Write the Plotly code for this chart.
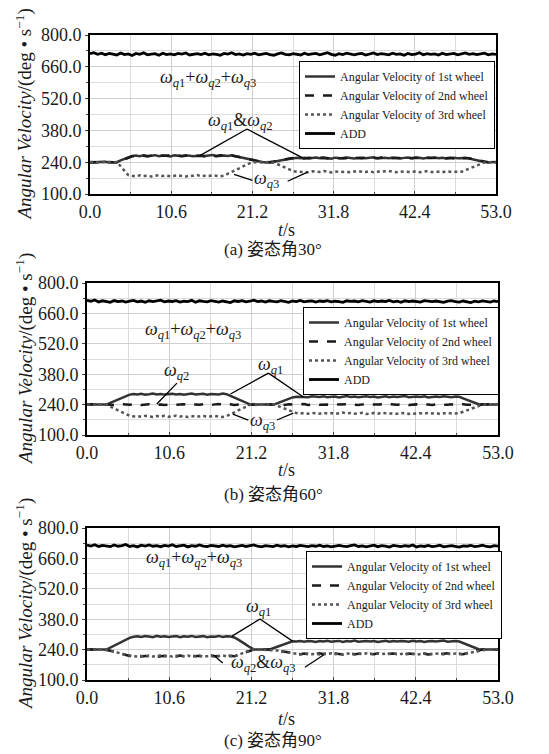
import plotly.graph_objects as go

# ---------------- data ----------------
T = [0, 0.5, 1, 1.5, 2, 2.5, 3, 3.5, 4, 4.5,
     5, 5.5, 6, 6.5, 7, 7.5, 8, 8.5, 9, 9.5,
     10, 10.5, 11, 11.5, 12, 12.5, 13, 13.5, 14, 14.5,
     15, 15.5, 16, 16.5, 17, 17.5, 18, 18.5, 19, 19.5,
     20, 20.5, 21, 21.5, 22, 22.5, 23, 23.5, 24, 24.5,
     25, 25.5, 26, 26.5, 27, 27.5, 28, 28.5, 29, 29.5,
     30, 30.5, 31, 31.5, 32, 32.5, 33, 33.5, 34, 34.5,
     35, 35.5, 36, 36.5, 37, 37.5, 38, 38.5, 39, 39.5,
     40, 40.5, 41, 41.5, 42, 42.5, 43, 43.5, 44, 44.5,
     45, 45.5, 46, 46.5, 47, 47.5, 48, 48.5, 49, 49.5,
     50, 50.5, 51, 51.5, 52, 52.5, 53]

X_TICKS = [0.0, 10.6, 21.2, 31.8, 42.4, 53.0]
Y_TICKS = [100.0, 240.0, 380.0, 520.0, 660.0, 800.0]

SERIES_NAMES = ["Angular Velocity of 1st wheel", "Angular Velocity of 2nd wheel",
                "Angular Velocity of 3rd wheel", "ADD"]
CAPTIONS = ["(a) 姿态角30°", "(b) 姿态角60°", "(c) 姿态角90°"]

# (a) attitude 30 deg
A_W1 = [240, 241, 239, 240, 242, 239, 241, 240, 248, 255,
        262, 267, 269, 266, 270, 267, 268, 271, 266, 269,
        268, 265, 270, 268, 267, 271, 269, 266, 268, 270,
        267, 269, 272, 266, 268, 269, 267, 270, 266, 262,
        258, 254, 250, 246, 242, 241, 239, 240, 241, 245,
        249, 252, 255, 257, 259, 257, 260, 256, 258, 261,
        257, 259, 258, 255, 260, 258, 257, 261, 259, 256,
        258, 260, 257, 259, 262, 256, 258, 259, 257, 260,
        258, 256, 259, 261, 257, 258, 260, 256, 259, 258,
        261, 257, 259, 256, 258, 260, 257, 259, 258, 256,
        252, 248, 244, 241, 240, 239, 241]
A_W2 = [239, 240, 241, 239, 240, 241, 240, 239, 246, 253,
        260, 266, 267, 270, 268, 265, 269, 268, 270, 266,
        268, 271, 267, 269, 266, 268, 270, 267, 269, 268,
        265, 270, 268, 267, 271, 268, 266, 269, 267, 263,
        259, 255, 251, 247, 243, 240, 241, 239, 242, 246,
        250, 253, 256, 258, 257, 259, 256, 260, 258, 257,
        259, 261, 256, 258, 260, 257, 259, 258, 256, 261,
        258, 257, 260, 259, 256, 258, 261, 257, 259, 258,
        260, 256, 258, 259, 257, 261, 258, 256, 260, 259,
        257, 258, 260, 257, 259, 256, 258, 260, 259, 257,
        253, 249, 245, 242, 240, 241, 240]
A_W3 = [241, 239, 240, 240, 242, 239, 240, 241, 222, 200,
        183, 180, 178, 182, 179, 181, 177, 180, 183, 179,
        181, 178, 180, 182, 179, 177, 181, 180, 183, 178,
        180, 179, 182, 180, 178, 181, 189, 197, 206, 214,
        222, 231, 238, 240, 239, 241, 240, 239, 238, 231,
        223, 215, 207, 201, 198, 197, 199, 196, 200, 198,
        197, 201, 198, 195, 199, 198, 200, 197, 196, 199,
        201, 198, 197, 200, 196, 198, 199, 197, 201, 198,
        196, 199, 198, 200, 197, 199, 196, 198, 200, 197,
        199, 198, 196, 200, 198, 197, 199, 198, 205, 212,
        219, 226, 233, 239, 240, 241, 239]
A_ADD = [718, 722, 715, 720, 713, 719, 716, 712, 721, 714,
         717, 710, 719, 715, 722, 713, 716, 718, 711, 720,
         714, 717, 713, 719, 716, 721, 712, 715, 718, 714,
         720, 713, 717, 715, 711, 719, 716, 722, 714, 717,
         712, 718, 715, 720, 713, 716, 719, 714, 711, 717,
         721, 715, 713, 718, 716, 712, 720, 714, 717, 719,
         713, 716, 722, 715, 711, 718, 714, 720, 716, 713,
         717, 719, 712, 715, 721, 714, 718, 716, 713, 720,
         715, 717, 711, 719, 714, 716, 722, 713, 718, 715,
         717, 712, 720, 714, 716, 719, 713, 717, 721, 715,
         718, 714, 716, 720, 713, 717, 715]

# (b) attitude 60 deg
B_W1 = [240, 239, 241, 240, 241, 240, 248, 256, 264, 272,
        280, 286, 289, 287, 290, 286, 288, 291, 287, 289,
        286, 288, 290, 287, 289, 285, 288, 291, 287, 288,
        290, 286, 289, 288, 287, 291, 288, 280, 272, 264,
        256, 248, 241, 240, 239, 241, 240, 241, 239, 246,
        253, 260, 267, 273, 276, 275, 277, 274, 278, 276,
        275, 278, 274, 276, 277, 273, 276, 279, 275, 277,
        274, 276, 278, 275, 277, 273, 276, 278, 274, 277,
        275, 276, 279, 274, 276, 277, 275, 278, 273, 276,
        277, 275, 278, 276, 274, 277, 276, 269, 262, 255,
        248, 242, 240, 241, 239, 240, 241]
B_W2 = [240, 241, 239, 240, 242, 240, 239, 241, 238, 242,
        240, 239, 241, 243, 238, 240, 242, 239, 241, 240,
        238, 241, 243, 239, 240, 242, 238, 241, 240, 239,
        242, 240, 238, 241, 243, 239, 240, 241, 238, 240,
        242, 239, 241, 240, 238, 241, 240, 242, 239, 240,
        241, 238, 242, 240, 239, 241, 243, 238, 240, 242,
        239, 241, 240, 238, 242, 240, 241, 239, 243, 240,
        238, 241, 240, 242, 239, 240, 241, 238, 242, 240,
        239, 241, 243, 238, 240, 241, 239, 242, 240, 238,
        241, 240, 242, 239, 241, 238, 240, 242, 239, 241,
        240, 238, 241, 240, 242, 239, 240]
B_W3 = [240, 241, 239, 240, 239, 241, 231, 222, 213, 204,
        195, 188, 185, 187, 184, 188, 186, 183, 187, 185,
        188, 184, 186, 189, 185, 187, 183, 186, 188, 185,
        187, 184, 186, 188, 185, 183, 187, 196, 205, 214,
        223, 232, 239, 241, 240, 239, 241, 240, 242, 235,
        228, 221, 214, 207, 201, 199, 202, 198, 201, 200,
        198, 202, 199, 201, 197, 200, 203, 199, 201, 198,
        200, 202, 197, 199, 201, 198, 203, 200, 199, 201,
        198, 200, 202, 197, 199, 201, 200, 198, 202, 199,
        201, 197, 200, 202, 199, 198, 200, 207, 214, 221,
        228, 235, 240, 239, 241, 240, 239]
B_ADD = [720, 716, 722, 713, 718, 715, 711, 719, 714, 717,
         712, 716, 720, 713, 717, 711, 718, 714, 716, 721,
         713, 717, 715, 719, 712, 716, 714, 720, 711, 718,
         715, 713, 719, 716, 712, 717, 714, 710, 718, 715,
         719, 713, 716, 721, 714, 717, 712, 718, 715, 713,
         719, 716, 711, 717, 714, 720, 713, 716, 718, 712,
         717, 715, 719, 713, 716, 714, 711, 718, 715, 717,
         713, 719, 716, 712, 718, 714, 717, 715, 720, 713,
         716, 711, 718, 714, 717, 715, 712, 719, 716, 714,
         717, 713, 711, 716, 719, 714, 712, 717, 715, 710,
         716, 713, 718, 715, 712, 717, 714]

# (c) attitude 90 deg
C_W1 = [240, 241, 239, 240, 241, 240, 249, 258, 267, 276,
        285, 294, 299, 301, 298, 302, 300, 297, 303, 299,
        301, 298, 300, 302, 297, 301, 299, 303, 298, 300,
        302, 297, 300, 299, 303, 298, 301, 300, 296, 286,
        276, 263, 251, 241, 240, 239, 241, 240, 246, 253,
        260, 267, 273, 278, 277, 279, 276, 280, 278, 275,
        279, 277, 281, 276, 278, 280, 275, 279, 277, 282,
        276, 278, 280, 277, 279, 275, 278, 281, 276, 279,
        277, 280, 278, 276, 281, 277, 279, 275, 278, 280,
        277, 279, 282, 276, 278, 280, 277, 270, 262, 255,
        248, 242, 240, 241, 239, 240, 241]
C_W2 = [240, 239, 241, 240, 241, 239, 235, 230, 225, 220,
        215, 211, 209, 212, 208, 211, 210, 213, 207, 210,
        212, 209, 211, 208, 213, 210, 207, 211, 209, 212,
        208, 210, 213, 209, 211, 207, 210, 212, 209, 215,
        222, 229, 235, 240, 241, 239, 240, 241, 240, 237,
        233, 230, 226, 223, 220, 219, 222, 218, 221, 220,
        223, 219, 221, 218, 222, 220, 217, 221, 223, 219,
        220, 222, 218, 221, 219, 223, 220, 217, 221, 222,
        219, 221, 218, 222, 220, 223, 219, 221, 218, 220,
        222, 219, 221, 223, 218, 220, 221, 219, 224, 228,
        232, 236, 240, 239, 241, 240, 239]
C_W3 = [241, 240, 239, 241, 240, 240, 236, 231, 226, 221,
        216, 212, 210, 208, 211, 209, 212, 208, 210, 213,
        209, 211, 208, 212, 210, 209, 213, 208, 211, 210,
        212, 209, 211, 208, 210, 213, 209, 211, 208, 216,
        223, 230, 236, 241, 240, 239, 241, 240, 239, 236,
        232, 229, 225, 222, 221, 218, 220, 222, 219, 221,
        218, 222, 220, 223, 219, 221, 218, 222, 220, 217,
        221, 219, 223, 220, 218, 222, 219, 221, 220, 223,
        218, 220, 222, 219, 221, 217, 220, 223, 219, 221,
        220, 222, 218, 221, 219, 222, 220, 218, 223, 227,
        231, 235, 239, 240, 241, 239, 240]
C_ADD = [721, 717, 723, 715, 720, 718, 714, 722, 716, 719,
         724, 715, 719, 713, 721, 717, 722, 716, 719, 714,
         720, 717, 723, 715, 718, 721, 713, 719, 716, 722,
         717, 714, 720, 718, 715, 721, 716, 719, 713, 717,
         720, 715, 718, 722, 716, 713, 719, 717, 714, 721,
         716, 719, 713, 718, 715, 720, 717, 714, 719, 716,
         721, 715, 718, 713, 717, 720, 716, 714, 719, 722,
         715, 718, 713, 717, 721, 714, 719, 716, 712, 720,
         717, 714, 719, 716, 722, 713, 718, 715, 720, 714,
         717, 721, 713, 716, 719, 715, 712, 718, 716, 720,
         714, 717, 721, 715, 713, 719, 716]

# ---------------- layout helpers ----------------
PAGE_W, PAGE_H = 549, 754
OFF = 8                      # default page body margin
W, H = PAGE_W - OFF, PAGE_H - OFF
FONT = "'Liberation Serif', 'Times New Roman', 'Noto Sans CJK SC', serif"
TXT = "#1a1a1a"


def omega(s):
    return "<i>ω</i><sub><i>q</i>%s</sub>" % s


SUM_TXT = omega("1") + "+" + omega("2") + "+" + omega("3")


def px(v):
    return (v - OFF) / W


def py(v):
    return 1 - (v - OFF) / H


panels = [
    dict(data=(A_W1, A_W2, A_W3, A_ADD), xpx=(90, 496), ypx=(35, 194), leg=(299, 61),
         tl_y=230, cap_y=249,
         labels=[(SUM_TXT, 15.4, 610), (omega("1") + "&amp;" + omega("2"), 19.6, 418),
                 (omega("3"), 23.0, 165)],
         lines=[(20.5, 386, 14.4, 270), (20.5, 386, 27.7, 260),
                (21.2, 160, 18.8, 186), (25.8, 156, 28.4, 196)]),
    dict(data=(B_W1, B_W2, B_W3, B_ADD), xpx=(87, 498), ypx=(283, 435), leg=(303, 307),
         tl_y=470, cap_y=494,
         labels=[(SUM_TXT, 13.7, 580), (omega("2"), 11.5, 392),
                 (omega("1"), 23.6, 420), (omega("3"), 22.6, 160)],
         lines=[(11.6, 339, 9.0, 243), (23.4, 385, 18.5, 289), (23.4, 385, 27.9, 275),
                (20.8, 169, 18.8, 196), (24.5, 169, 26.6, 201)]),
    dict(data=(C_W1, C_W2, C_W3, C_ADD), xpx=(87, 498), ypx=(528, 680), leg=(306, 551),
         tl_y=719, cap_y=740,
         labels=[(SUM_TXT, 13.8, 660), (omega("1"), 22.1, 436),
                 (omega("2") + "&amp;" + omega("3"), 22.7, 178)],
         lines=[(22.3, 381, 18.7, 302), (22.3, 381, 26.5, 279),
                (17.5, 178, 16.3, 215), (28.1, 159, 30.5, 215)]),
]

styles = [dict(color="#333333", dash="solid", width=2.5),
          dict(color="#1a1a1a", dash="dash", width=2.5),
          dict(color="#555555", dash="dot", width=2.5),
          dict(color="#000000", dash="solid", width=2.8)]

fig = go.Figure()
layout = dict(width=W, height=H,
              margin=dict(l=0, r=0, t=0, b=0, pad=0, autoexpand=False),
              paper_bgcolor="white", plot_bgcolor="white",
              font=dict(family=FONT, size=17, color=TXT),
              showlegend=True)
annotations = []
shapes = []

for k, p in enumerate(panels):
    sfx = "" if k == 0 else str(k + 1)
    xa, ya = "x" + sfx, "y" + sfx
    leg = "legend" + sfx
    for name, vals, st in zip(SERIES_NAMES, p["data"], styles):
        fig.add_trace(go.Scatter(x=T, y=vals, mode="lines", name=name,
                                 xaxis=xa, yaxis=ya, legend=leg,
                                 line=dict(color=st["color"], dash=st["dash"],
                                           width=st["width"])))
    common = dict(showline=True, linecolor="black", linewidth=2, mirror=True,
                  showgrid=True, gridcolor="#cfcfcf", gridwidth=1, zeroline=False,
                  automargin=False,
                  tickfont=dict(family=FONT, size=18, color=TXT))
    layout["xaxis" + sfx] = dict(common, domain=[px(p["xpx"][0]), px(p["xpx"][1])],
                                 anchor=ya, range=[X_TICKS[0], X_TICKS[-1]],
                                 tickvals=X_TICKS, ticktext=["%.1f" % v for v in X_TICKS],
                                 ticks="inside", ticklen=3,
                                 minor=dict(dtick=5.3, tick0=0, showgrid=True,
                                            gridcolor="#dcdcdc", ticks="inside", ticklen=2))
    layout["yaxis" + sfx] = dict(common, domain=[py(p["ypx"][1]), py(p["ypx"][0])],
                                 anchor=xa, range=[Y_TICKS[0], Y_TICKS[-1]],
                                 tickvals=Y_TICKS, ticktext=["%.1f" % v for v in Y_TICKS],
                                 ticks="outside", ticklen=3,
                                 minor=dict(dtick=70, tick0=100, showgrid=True,
                                            gridcolor="#dcdcdc", ticks="outside", ticklen=2))
    layout[leg] = dict(x=px(p["leg"][0]), y=py(p["leg"][1]), xref="paper", yref="paper",
                       xanchor="left", yanchor="top", bgcolor="white",
                       bordercolor="black", borderwidth=1,
                       font=dict(family=FONT, size=12, color=TXT),
                       tracegroupgap=0, itemwidth=30)
    for txt, xv, yv in p["labels"]:
        annotations.append(dict(text=txt, x=xv, y=yv, xref=xa, yref=ya, showarrow=False,
                                xanchor="center", yanchor="middle",
                                font=dict(family=FONT, size=18, color=TXT)))
    for x0, y0, x1, y1 in p["lines"]:
        shapes.append(dict(type="line", xref=xa, yref=ya, x0=x0, y0=y0, x1=x1, y1=y1,
                           line=dict(color="black", width=1.3)))
    ymid = (p["ypx"][0] + p["ypx"][1]) / 2
    annotations.append(dict(text="<i>Angular Velocity</i>/(deg • s<sup>−1</sup>)",
                            x=px(24), y=py(ymid), xref="paper", yref="paper",
                            textangle=-90, showarrow=False, xanchor="center",
                            yanchor="middle",
                            font=dict(family=FONT, size=19, color=TXT)))
    annotations.append(dict(text="<i>t</i>/s", x=px(286), y=py(p["tl_y"]), xref="paper",
                            yref="paper", showarrow=False, xanchor="center",
                            yanchor="middle",
                            font=dict(family=FONT, size=18, color=TXT)))
    annotations.append(dict(text=CAPTIONS[k], x=px(273), y=py(p["cap_y"]), xref="paper",
                            yref="paper", showarrow=False, xanchor="center",
                            yanchor="middle",
                            font=dict(family=FONT, size=17, color=TXT)))

layout["annotations"] = annotations
layout["shapes"] = shapes
fig.update_layout(**layout)
fig.write_html("out.html")
